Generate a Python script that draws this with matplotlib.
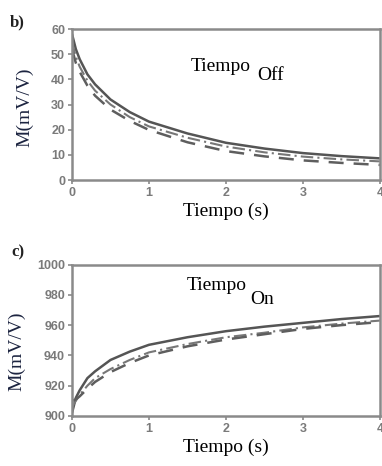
import numpy as np
import matplotlib
matplotlib.use("Agg")
import matplotlib.pyplot as plt

# time axis (s) shared by every curve
t = [0, 0.05, 0.1, 0.2, 0.3, 0.5, 0.75, 1, 1.5, 2, 2.5, 3, 3.5, 4]

# panel b) - Tiempo Off
off_solid = [58, 52, 48, 42, 38, 32, 27, 23.2, 18.5, 14.8, 12.5, 10.7, 9.5, 8.6]
off_dashdot = [55, 49, 45, 39.5, 35.5, 30, 25, 21.3, 16.8, 13.3, 11, 9.3, 8.2, 7.4]
off_dashed = [52, 46.5, 43, 37.5, 33.5, 28, 23.5, 19.9, 15, 11.5, 9.4, 7.8, 6.8, 6.0]

# panel c) - Tiempo On
on_solid = [902, 912, 917, 925, 929.5, 937, 942.5, 947, 952, 956, 959, 961.5, 964, 966]
on_dashdot = [906, 910, 914, 920, 925, 931, 937, 942, 947.5, 952, 955, 958.5, 961, 963]
on_dashed = [910, 911, 913, 918, 922.5, 929, 935, 940, 946, 950.5, 954, 957.5, 960, 962]

SERIF = "Liberation Serif"
SANS = "Liberation Sans"
SPINE = "#8a8a8a"
TICKC = "#7a7a7a"

fig = plt.figure(figsize=(3.82, 4.66), dpi=100)
ax1 = fig.add_axes([0.1885, 0.6137, 0.806, 0.324])
ax2 = fig.add_axes([0.1885, 0.1073, 0.806, 0.325])


def style(ax, ylim, yticks):
    ax.set_xlim(0, 4)
    ax.set_ylim(*ylim)
    ax.set_xticks([0, 1, 2, 3, 4])
    ax.set_yticks(yticks)
    for s in ax.spines.values():
        s.set_color(SPINE)
        s.set_linewidth(1.8)
    ax.tick_params(direction="out", length=3, width=1.2, color=SPINE,
                   labelcolor=TICKC, labelsize=9, pad=2)
    for lab in ax.get_xticklabels() + ax.get_yticklabels():
        lab.set_fontfamily(SANS)
        lab.set_fontweight("bold")
    ax.set_xlabel("Tiempo (s)", family=SERIF, fontsize=14, labelpad=3)


def curves(ax, s, dd, d):
    ax.plot(t, s, color="#555555", lw=1.8, solid_capstyle="butt")
    ax.plot(t, dd, color="#777777", lw=1.5, dashes=(6, 2, 1, 2))
    ax.plot(t, d, color="#5e5e5e", lw=1.8, dashes=(6, 4))


curves(ax1, off_solid, off_dashdot, off_dashed)
style(ax1, (0, 60), [0, 10, 20, 30, 40, 50, 60])
ax1.set_ylabel("M(mV/V)", family=SERIF, fontsize=14, color="#1c2440")
ax1.yaxis.set_label_coords(-0.125, 0.48)

curves(ax2, on_solid, on_dashdot, on_dashed)
style(ax2, (900, 1000), [900, 920, 940, 960, 980, 1000])
ax2.set_ylabel("M(mV/V)", family=SERIF, fontsize=14, color="#1c2440")
ax2.yaxis.set_label_coords(-0.15, 0.43)

# "Tiempo" with lowered suffix
fig.text(191 / 382, 1 - 71 / 466, "Tiempo", family=SERIF, fontsize=14,
         va="baseline", ha="left")
fig.text(257 / 382, 1 - 80 / 466, "Off", family=SERIF, fontsize=14,
         va="baseline", ha="left")
fig.text(187 / 382, 1 - 290 / 466, "Tiempo", family=SERIF, fontsize=14,
         va="baseline", ha="left")
fig.text(250 / 382, 1 - 304 / 466, "On", family=SERIF, fontsize=14,
         va="baseline", ha="left")

# panel letters
fig.text(10 / 382, 1 - 26 / 466, "b)", family=SERIF, fontsize=12,
         fontweight="bold", color="#222222", va="baseline")
fig.text(11 / 382, 1 - 256 / 466, "c)", family=SERIF, fontsize=12,
         fontweight="bold", color="#222222", va="baseline")

fig.savefig("out.png", dpi=100)
